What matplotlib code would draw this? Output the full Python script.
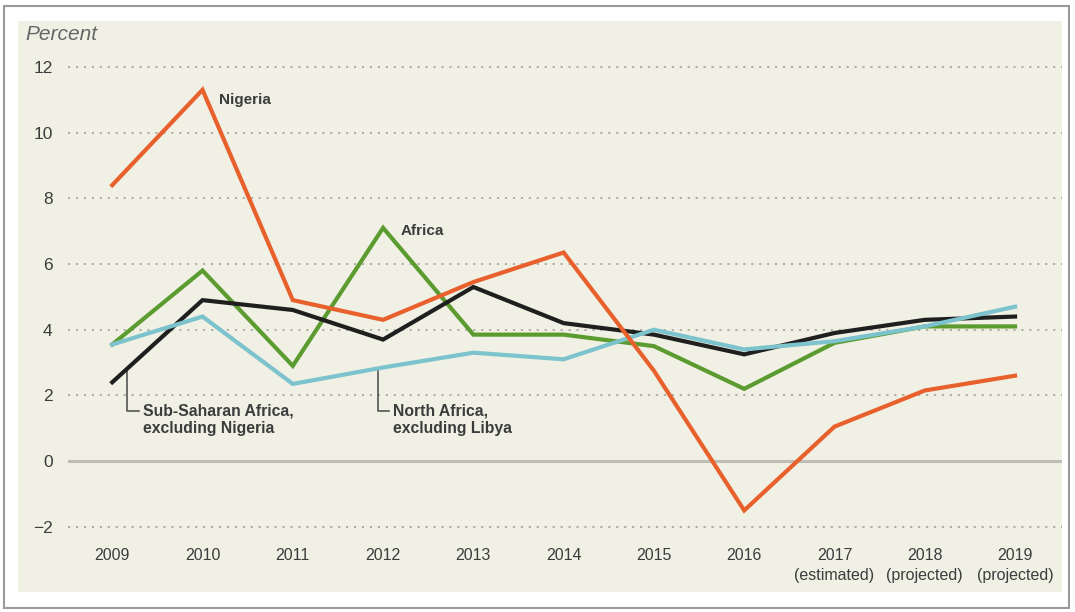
import numpy as np
import matplotlib
matplotlib.use("Agg")
import matplotlib.pyplot as plt
from matplotlib.patches import Rectangle

# data (percent)
years = [2009, 2010, 2011, 2012, 2013, 2014, 2015, 2016, 2017, 2018, 2019]
year_labels = ["2009", "2010", "2011", "2012", "2013", "2014", "2015", "2016",
               "2017\n(estimated)", "2018\n(projected)", "2019\n(projected)"]
nigeria = [8.4, 11.3, 4.9, 4.3, 5.45, 6.35, 2.75, -1.5, 1.05, 2.15, 2.6]
africa = [3.55, 5.8, 2.9, 7.1, 3.85, 3.85, 3.5, 2.2, 3.6, 4.1, 4.1]
ssa_ex_nigeria = [2.4, 4.9, 4.6, 3.7, 5.3, 4.2, 3.85, 3.25, 3.9, 4.3, 4.4]
north_ex_libya = [3.55, 4.4, 2.35, 2.85, 3.3, 3.1, 4.0, 3.4, 3.65, 4.1, 4.7]
yticks = [-2, 0, 2, 4, 6, 8, 10, 12]

C_NIG = "#e8602c"
C_AFR = "#5b9b30"
C_SSA = "#1f1f1f"
C_NAF = "#7cc3cd"
BG = "#f0f0e5"
TXT = "#3c3c3c"

plt.rcParams["font.family"] = ["Liberation Sans", "DejaVu Sans"]

fig = plt.figure(figsize=(10.75, 6.12), dpi=100)
fig.patch.set_facecolor("white")
# outer frame + beige panel
fig.patches.append(Rectangle((0.004, 0.006), 0.99, 0.985, transform=fig.transFigure,
                             facecolor="white", edgecolor="#9a9a9a", lw=1.5, zorder=-10))
fig.patches.append(Rectangle((18 / 1075, 1 - 592 / 612), (1062 - 18) / 1075, (592 - 21) / 612,
                             transform=fig.transFigure, facecolor=BG, edgecolor="none", zorder=-9))

ax = fig.add_axes([68 / 1075, 1 - 540 / 612, (1062 - 68) / 1075, (540 - 55) / 612])
ax.set_facecolor("none")
for s in ax.spines.values():
    s.set_visible(False)

ax.set_xlim(2008.51, 2019.52)
ax.set_ylim(-2.4, 12.36)

for v in yticks:
    if v == 0:
        ax.axhline(v, color="#bebeb6", lw=2.2, zorder=1)
    else:
        ax.axhline(v, color="#a8a8a0", lw=1.3, ls=(0, (1.2, 3.2)), zorder=1)

lw = 3.0
ax.plot(years, africa, color=C_AFR, lw=lw, zorder=3, solid_joinstyle="miter")
ax.plot(years, ssa_ex_nigeria, color=C_SSA, lw=lw, zorder=4, solid_joinstyle="miter")
ax.plot(years, north_ex_libya, color=C_NAF, lw=lw, zorder=5, solid_joinstyle="miter")
ax.plot(years, nigeria, color=C_NIG, lw=lw, zorder=6, solid_joinstyle="miter")

ax.set_yticks(yticks)
ax.set_yticklabels(["\u22122" if v < 0 else str(v) for v in yticks])
ax.set_xticks(years)
ax.set_xticklabels(year_labels, linespacing=1.35)
ax.tick_params(axis="y", length=0, labelsize=12.5, colors=TXT, pad=11)
ax.tick_params(axis="x", length=0, labelsize=11.5, colors=TXT, pad=6)

fig.text(25 / 1075, 1 - 35 / 612, "Percent", style="italic", fontsize=15,
         color="#666666", va="center", ha="left")

# series labels
ax.text(2010.18, 11.0, "Nigeria", fontsize=11, fontweight="bold", color=TXT,
        va="center", ha="left")
ax.text(2012.19, 7.0, "Africa", fontsize=11, fontweight="bold", color=TXT,
        va="center", ha="left")

# callouts
ax.plot([2009.165, 2009.165, 2009.3], [2.75, 1.52, 1.52], color="#555555", lw=1.2, zorder=2)
ax.text(2009.345, 1.75, "Sub-Saharan Africa,\nexcluding Nigeria", fontsize=11.3,
        fontweight="bold", color=TXT, va="top", ha="left", linespacing=1.2)
ax.plot([2011.94, 2011.94, 2012.07], [2.83, 1.52, 1.52], color="#555555", lw=1.2, zorder=2)
ax.text(2012.115, 1.75, "North Africa,\nexcluding Libya", fontsize=11.3,
        fontweight="bold", color=TXT, va="top", ha="left", linespacing=1.2)

fig.savefig("out.png", dpi=100, facecolor=fig.get_facecolor())
